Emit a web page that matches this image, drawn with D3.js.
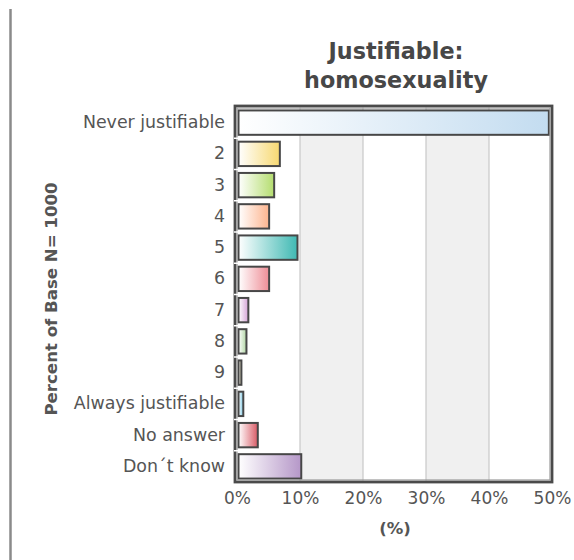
<!DOCTYPE html>
<html><head><meta charset="utf-8">
<script src="https://cdn.jsdelivr.net/npm/d3@7/dist/d3.min.js"></script>
<style>html,body{margin:0;padding:0;background:#fff;}svg{display:block;}</style>
</head><body>
<svg id="chart" width="574" height="560"></svg>
<script>
const categories = ["Never justifiable","2","3","4","5","6","7","8","9","Always justifiable","No answer","Don´t know"];
const values = [49.5, 6.8, 5.9, 5.1, 9.6, 5.1, 1.8, 1.5, 0.7, 1.0, 3.3, 10.2];
const colors = ["#c3dcf0","#f7d870","#b4dd6e","#fdb48e","#3fb9b3","#ee8d96","#d5a2d6","#b0d6a3","#bdb995","#7cc8e4","#d95b66","#b597c8"];
const xTicks = [0, 10, 20, 30, 40, 50];
const titleLines = ["Justifiable:", "homosexuality"];
const yTitle = "Percent of Base N= 1000";
const xTitle = "(%)";

const svg = d3.select("#chart");
const L = 237, R = 552, T = 106, B = 482;
const x = d3.scaleLinear().domain([0, 50]).range([L, R]);
const y = d3.scaleBand().domain(categories).range([T + 1, B]).paddingInner(0.22).paddingOuter(0.11);
const FONT = "DejaVu Sans, Verdana, sans-serif";

// left vertical rule
svg.append("line").attr("x1", 10.5).attr("x2", 10.5).attr("y1", 9).attr("y2", 560)
  .attr("stroke", "#8a8a8a").attr("stroke-width", 2.5);

// alternating bands
const defs = svg.append("defs");
for (let i = 0; i < xTicks.length - 1; i++) {
  svg.append("rect").attr("x", x(xTicks[i])).attr("y", T).attr("width", x(xTicks[i+1]) - x(xTicks[i]))
    .attr("height", B - T).attr("fill", i % 2 === 1 ? "#f0f0f0" : "#ffffff");
}
// gridlines
svg.append("g").selectAll("line").data(xTicks.slice(1, -1)).join("line")
  .attr("x1", d => x(d)).attr("x2", d => x(d)).attr("y1", T).attr("y2", B)
  .attr("stroke", "#c8c8c8").attr("stroke-width", 1.2);

// gradients
colors.forEach((c, i) => {
  const g = defs.append("linearGradient").attr("id", "g" + i).attr("x1", "0").attr("x2", "1").attr("y1", "0").attr("y2", "0");
  g.append("stop").attr("offset", "0%").attr("stop-color", "#ffffff");
  g.append("stop").attr("offset", "100%").attr("stop-color", c);
});

// bars
svg.append("g").selectAll("rect").data(categories).join("rect")
  .attr("x", x(0) + 1.5)
  .attr("y", d => y(d))
  .attr("width", (d, i) => Math.max(0, x(values[i]) - x(0) - 1.5))
  .attr("height", y.bandwidth())
  .attr("fill", (d, i) => "url(#g" + i + ")")
  .attr("stroke", "#474747").attr("stroke-width", 2);

// frame
svg.append("rect").attr("x", 235).attr("y", 106).attr("width", 317).attr("height", 376)
  .attr("fill", "none").attr("stroke", "#4a4a4a").attr("stroke-width", 2.8);
svg.append("rect").attr("x", 237).attr("y", 108).attr("width", 313).attr("height", 372)
  .attr("fill", "none").attr("stroke", "#9a9a9a").attr("stroke-width", 1.2);

// white notches at band boundaries on left border
const bounds = categories.slice(1).map(d => y(d) - y.step() * y.paddingInner() / 2);
svg.append("g").selectAll("line").data(bounds).join("line")
  .attr("x1", 234).attr("x2", 239).attr("y1", d => d).attr("y2", d => d)
  .attr("stroke", "#ffffff").attr("stroke-width", 1.5);

// y axis labels
const yAxis = d3.axisLeft(y).tickSize(0).tickPadding(12);
const yg = svg.append("g").attr("transform", `translate(${L},0)`).call(yAxis);
yg.select(".domain").remove();
yg.selectAll("text").attr("font-family", FONT).attr("font-size", 17.4).attr("fill", "#555");

// x axis labels
const xAxis = d3.axisBottom(x).tickValues(xTicks).tickFormat(d => d + "%").tickSize(0).tickPadding(10);
const xg = svg.append("g").attr("transform", `translate(0,${B})`).call(xAxis);
xg.select(".domain").remove();
xg.selectAll("text").attr("font-family", FONT).attr("font-size", 17).attr("fill", "#555");

// titles
svg.append("g").selectAll("text").data(titleLines).join("text")
  .attr("x", 396).attr("y", (d, i) => 59 + i * 29)
  .attr("text-anchor", "middle").attr("font-family", FONT)
  .attr("font-weight", "bold").attr("font-size", 22.3).attr("fill", "#474747").text(d => d);

svg.append("text").attr("x", 395).attr("y", 534).attr("text-anchor", "middle")
  .attr("font-family", FONT).attr("font-weight", "bold")
  .attr("font-size", 16.5).attr("fill", "#555").text(xTitle);

svg.append("text").attr("transform", "translate(57,299) rotate(-90)").attr("text-anchor", "middle")
  .attr("font-family", FONT).attr("font-weight", "bold")
  .attr("font-size", 16.6).attr("fill", "#555").text(yTitle);
</script>
</body></html>
